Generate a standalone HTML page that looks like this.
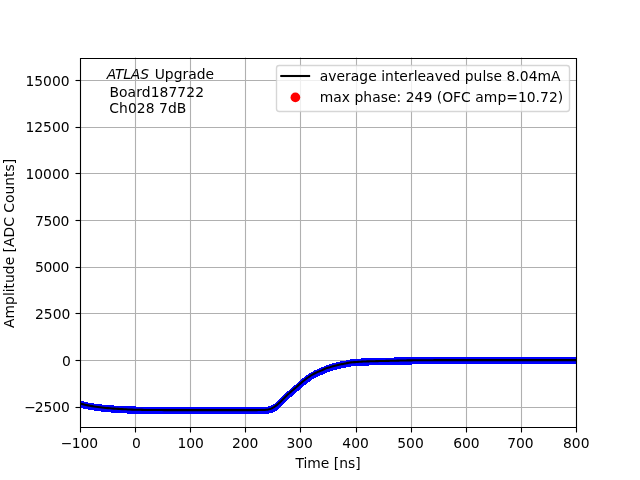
<!DOCTYPE html>
<html lang="en"><head><meta charset="utf-8"><title>Pulse plot</title>
<style>html,body{margin:0;padding:0;background:#fff;width:640px;height:480px;overflow:hidden}svg{display:block;will-change:transform}text{font-family:"DejaVu Sans","Liberation Sans",sans-serif;font-size:13.89px;fill:#000}</style></head><body>
<svg width="640" height="480" viewBox="0 0 640 480">
<rect width="640" height="480" fill="#fff"/>
<clipPath id="ax"><rect x="80" y="57.6" width="496" height="369.6"/></clipPath>
<g stroke="#b0b0b0" stroke-width="1.11" fill="none">
<path d="M135.5 57.6V427.2"/>
<path d="M190.5 57.6V427.2"/>
<path d="M245.5 57.6V427.2"/>
<path d="M300.5 57.6V427.2"/>
<path d="M356.5 57.6V427.2"/>
<path d="M411.5 57.6V427.2"/>
<path d="M466.5 57.6V427.2"/>
<path d="M521.5 57.6V427.2"/>
<path d="M80 80.5H576"/>
<path d="M80 127.5H576"/>
<path d="M80 173.5H576"/>
<path d="M80 220.5H576"/>
<path d="M80 267.5H576"/>
<path d="M80 313.5H576"/>
<path d="M80 360.5H576"/>
<path d="M80 407.5H576"/>
</g>
<g clip-path="url(#ax)" fill="none" stroke-linejoin="round">
<path d="M80 401H84V402H88V403H94V404H102V405H114V406H136V407H268V406H271V405H273V404H275V403H276V402H277V401H278V400H279V399H280V398H281V397H282V396H283V395H284V394H285V393H286V392H287V391H289V390H290V389H291V388H292V387H293V386H294V385H296V384H297V383H298V382H299V381H300V380H301V379H302V378H304V377H305V376H306V375H308V374H309V373H311V372H313V371H314V370H317V369H319V368H321V367H324V366H326V365H329V364H332V363H336V362H340V361H346V360H350V359H361V358H394V357H576V364H412V365H369V366H351V367H346V368H341V369H337V370H333V371H330V372H327V373H325V374H323V375H320V376H318V377H316V378H314V379H312V380H311V381H310V382H308V383H307V384H306V385H304V386H303V387H302V388H301V389H300V390H299V391H297V392H296V393H295V394H294V395H293V396H292V397H290V398H289V399H288V400H287V401H286V402H285V403H284V404H283V405H282V406H281V407H280V408H279V409H278V410H277V411H275V412H273V413H269V414H127V413H111V412H101V411H94V410H88V409H83V408H80Z" fill="#0000ff" stroke="none"/>
<path d="M76.00 402.47 L78.00 402.99 L80.00 403.50 L82.00 404.01 L84.00 404.49 L86.00 404.94 L88.00 405.36 L90.00 405.75 L92.00 406.11 L94.00 406.44 L96.00 406.76 L98.00 407.04 L100.00 407.30 L102.00 407.53 L104.00 407.75 L106.00 407.95 L108.00 408.13 L110.00 408.30 L112.00 408.46 L114.00 408.61 L116.00 408.75 L118.00 408.88 L120.00 409.00 L122.00 409.11 L124.00 409.22 L126.00 409.33 L128.00 409.43 L130.00 409.52 L132.00 409.60 L134.00 409.67 L136.00 409.73 L138.00 409.78 L140.00 409.83 L142.00 409.88 L144.00 409.92 L146.00 409.95 L148.00 409.98 L150.00 410.00 L152.00 410.02 L154.00 410.03 L156.00 410.05 L158.00 410.06 L160.00 410.07 L162.00 410.08 L164.00 410.09 L166.00 410.09 L168.00 410.10 L170.00 410.10 L212.00 410.10 L254.00 410.10 L256.00 410.10 L257.00 410.09 L258.00 410.08 L259.00 410.06 L260.00 410.05 L261.00 410.04 L262.00 410.02 L263.00 410.00 L264.00 409.97 L265.00 409.93 L266.00 409.81 L267.00 409.67 L268.00 409.51 L269.00 409.30 L270.00 409.02 L271.00 408.65 L272.00 408.20 L273.00 407.69 L274.00 407.09 L275.00 406.42 L276.00 405.71 L277.00 404.90 L278.00 404.03 L279.00 403.11 L280.00 402.16 L281.00 401.22 L282.00 400.23 L283.00 399.22 L284.00 398.19 L285.00 397.18 L286.00 396.22 L287.00 395.27 L288.00 394.34 L289.00 393.43 L290.00 392.53 L291.00 391.65 L292.00 390.81 L293.00 389.98 L294.00 389.16 L295.00 388.32 L296.00 387.45 L297.00 386.54 L298.00 385.64 L299.00 384.75 L300.00 383.86 L301.00 382.99 L302.00 382.14 L303.00 381.32 L304.00 380.51 L305.00 379.72 L306.00 378.95 L307.00 378.20 L308.00 377.48 L309.00 376.78 L310.00 376.09 L311.00 375.44 L312.00 374.82 L313.00 374.25 L314.00 373.72 L315.00 373.21 L316.00 372.73 L317.00 372.27 L318.00 371.83 L319.00 371.42 L320.00 371.03 L321.00 370.64 L322.00 370.21 L323.00 369.75 L324.00 369.27 L325.00 368.81 L326.00 368.39 L327.00 368.04 L328.00 367.73 L329.00 367.44 L330.00 367.14 L331.00 366.81 L332.00 366.50 L333.00 366.21 L334.00 365.97 L335.00 365.74 L336.00 365.51 L337.00 365.26 L338.00 365.00 L339.00 364.74 L340.00 364.52 L341.00 364.32 L342.00 364.13 L343.00 363.94 L344.00 363.76 L345.00 363.57 L346.00 363.36 L347.00 363.12 L348.00 362.87 L349.00 362.66 L350.00 362.50 L351.00 362.39 L352.00 362.30 L353.00 362.22 L354.00 362.15 L355.00 362.09 L356.00 362.02 L357.00 361.95 L358.00 361.88 L359.00 361.81 L360.00 361.74 L361.00 361.68 L362.00 361.63 L363.00 361.58 L364.00 361.53 L365.00 361.49 L366.00 361.45 L367.00 361.41 L368.00 361.37 L369.00 361.34 L370.00 361.31 L371.00 361.28 L372.00 361.25 L373.00 361.23 L374.00 361.20 L375.00 361.17 L376.00 361.15 L377.00 361.12 L378.00 361.10 L379.00 361.07 L380.00 361.05 L381.00 361.03 L382.00 361.00 L383.00 360.98 L384.00 360.95 L385.00 360.93 L386.00 360.91 L387.00 360.88 L388.00 360.86 L389.00 360.84 L390.00 360.81 L391.00 360.79 L392.00 360.77 L393.00 360.75 L394.00 360.72 L395.00 360.70 L396.00 360.68 L397.00 360.65 L398.00 360.63 L399.00 360.60 L400.00 360.58 L401.00 360.55 L402.00 360.53 L403.00 360.50 L404.00 360.48 L405.00 360.45 L406.00 360.43 L407.00 360.41 L408.00 360.39 L409.00 360.38 L410.00 360.36 L411.00 360.35 L412.00 360.34 L413.00 360.33 L414.00 360.32 L415.00 360.31 L416.00 360.30 L417.00 360.29 L418.00 360.28 L419.00 360.27 L420.00 360.26 L421.00 360.25 L422.00 360.24 L423.00 360.23 L424.00 360.22 L425.00 360.22 L426.00 360.21 L427.00 360.20 L428.00 360.20 L429.00 360.19 L430.00 360.18 L431.00 360.18 L432.00 360.17 L433.00 360.17 L434.00 360.16 L435.00 360.16 L436.00 360.16 L437.00 360.15 L438.00 360.15 L439.00 360.15 L440.00 360.15 L441.00 360.15 L442.00 360.15 L443.00 360.15 L444.00 360.15 L445.00 360.15 L446.00 360.14 L500.00 360.11 L540.00 360.10 L570.00 360.10 L572.00 360.10 L574.00 360.10 L576.00 360.10 L578.00 360.10 L580.00 360.10" stroke="#000" stroke-width="2.08" stroke-linecap="butt"/>
</g>
<g stroke="#000" stroke-width="1.11" fill="none">
<path d="M80.5 427.5V432.5"/>
<path d="M135.5 427.5V432.5"/>
<path d="M190.5 427.5V432.5"/>
<path d="M245.5 427.5V432.5"/>
<path d="M300.5 427.5V432.5"/>
<path d="M356.5 427.5V432.5"/>
<path d="M411.5 427.5V432.5"/>
<path d="M466.5 427.5V432.5"/>
<path d="M521.5 427.5V432.5"/>
<path d="M576.5 427.5V432.5"/>
<path d="M75.5 80.5H80.5"/>
<path d="M75.5 127.5H80.5"/>
<path d="M75.5 173.5H80.5"/>
<path d="M75.5 220.5H80.5"/>
<path d="M75.5 267.5H80.5"/>
<path d="M75.5 313.5H80.5"/>
<path d="M75.5 360.5H80.5"/>
<path d="M75.5 407.5H80.5"/>
<path d="M80.5 57.95V428.05M576.5 57.95V428.05M79.95 58.5H577.05M79.95 427.5H577.05" stroke-linecap="butt"/>
</g>
<g text-anchor="middle">
<text x="60.66 71.69" y="448.1" text-anchor="start">−100</text>
<text x="136.31" y="448.1">0</text>
<text x="190.64" y="448.1">100</text>
<text x="245.22" y="448.1">200</text>
<text x="299.64" y="448.1">300</text>
<text x="355.56" y="448.1">400</text>
<text x="410.55" y="448.1">500</text>
<text x="466.37" y="448.1">600</text>
<text x="520.40" y="448.1">700</text>
<text x="576.29" y="448.1">800</text>
</g><g text-anchor="end">
<text x="69.6" y="86">15000</text>
<text x="69.6" y="132">12500</text>
<text x="69.6" y="179">10000</text>
<text x="69.4" y="226" textLength="34.4" lengthAdjust="spacing">7500</text>
<text x="69.45" y="272" textLength="34.5" lengthAdjust="spacing">5000</text>
<text x="70.3" y="319">2500</text>
<text x="70.75" y="366">0</text>
<text x="24.21 34.64" y="412" text-anchor="start">−2500</text>
</g>
<text x="328" y="468.0" text-anchor="middle">Time [ns]</text>
<text transform="translate(13.6 243.4) rotate(-90)" text-anchor="middle">Amplitude [ADC Counts]</text>
<text x="106.75" y="78.9" font-style="italic" textLength="42.2" lengthAdjust="spacing">ATLAS</text>
<text x="154.7" y="78.9">Upgrade</text>
<text x="104.9" y="96.6" xml:space="preserve" textLength="99.1" lengthAdjust="spacing"> Board187722</text>
<text x="104.8" y="113.4" xml:space="preserve" textLength="81.6" lengthAdjust="spacing"> Ch028 7dB</text>
<rect x="276.5" y="65.5" width="293" height="46" rx="2.78" ry="2.78" fill="#fff" fill-opacity="0.8" stroke="#ccc" stroke-opacity="0.8" stroke-width="1.39"/>
<path d="M281.3 76H309.1" stroke="#000" stroke-width="2.08" stroke-linecap="square" fill="none"/>
<circle cx="295.4" cy="97.4" r="4.86" fill="#f00"/>
<text x="319.7" y="80.5" textLength="240.9" lengthAdjust="spacing">average interleaved pulse 8.04mA</text>
<text x="319.7" y="101.75" textLength="243.5" lengthAdjust="spacing">max phase: 249 (OFC amp=10.72)</text>
</svg></body></html>
